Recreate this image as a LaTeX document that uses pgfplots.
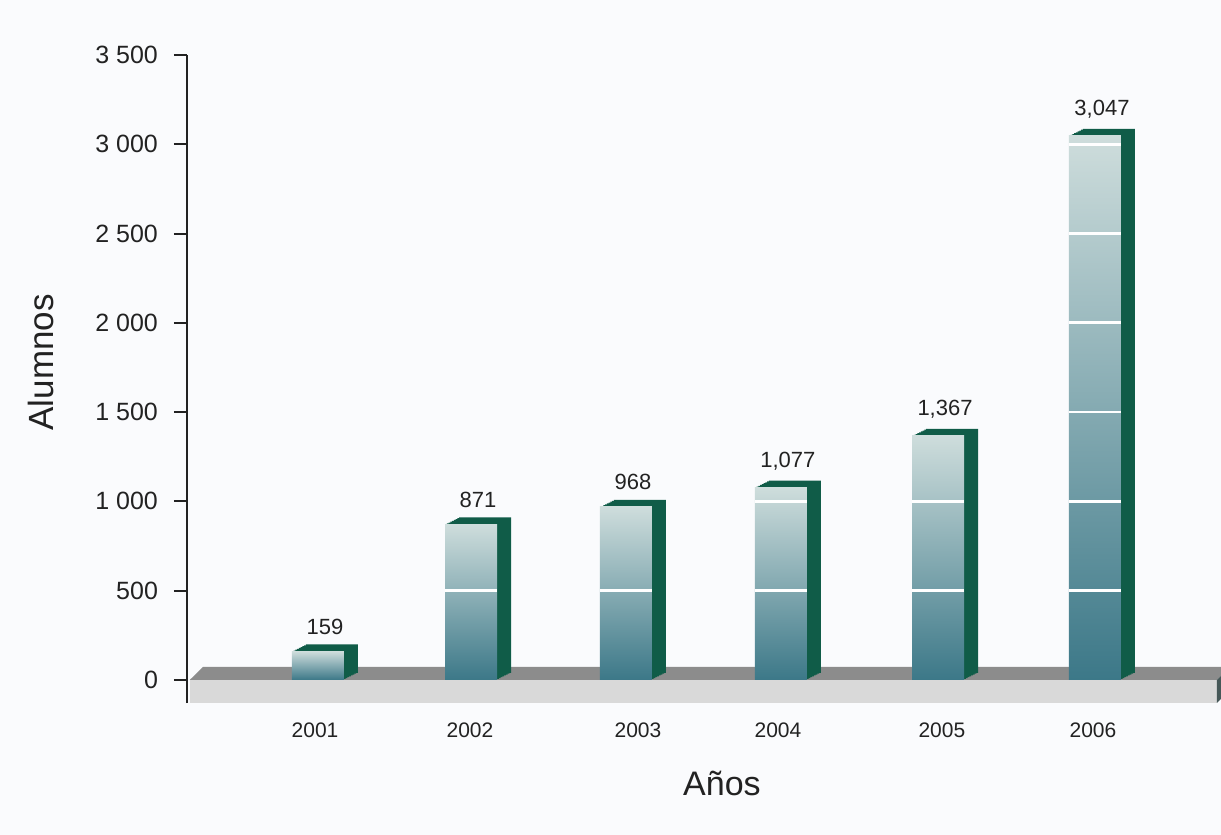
\documentclass[border=0pt]{standalone}
\usepackage{fontspec}
\setmainfont{Liberation Sans}
\usepackage{pgfplots}
\pgfplotsset{compat=1.18}
\usepackage{pgfplotstable}
\usetikzlibrary{calc}
\definecolor{bg}{RGB}{250,251,253}
\definecolor{sidegreen}{RGB}{16,92,72}
\definecolor{frontTop}{RGB}{206,221,220}
\definecolor{frontBot}{RGB}{60,120,136}
\definecolor{floortop}{RGB}{140,140,140}
\definecolor{floorfront}{RGB}{217,217,217}
\definecolor{floorside}{RGB}{70,88,88}
\definecolor{txt}{RGB}{34,34,34}

\pgfplotstableread{
x y
1 159
1.985 871
2.982 968
3.979 1077
4.99 1367
6 3047
}\datatable

\pgfplotsset{
  side/.style={ybar, bar width=26pt, draw=none, fill=sidegreen},
  front/.style={ybar, bar width=26pt, bar shift=0pt, draw=none, top color=frontTop, bottom color=frontBot,
    nodes near coords={\pgfmathprintnumber[1000 sep={,}]{\pgfplotspointmeta}},
    nodes near coords style={font=\fontsize{11}{13}\selectfont, text=txt, xshift=3.5pt, yshift=5pt}},
  wl/.style={white, line width=1.3pt},
}

\begin{document}
\begin{tikzpicture}
\fill[bg] (-93.5pt,-66pt) rectangle (517pt,351.5pt);
\begin{axis}[
  at={(0pt,0pt)}, anchor=south west,
  scale only axis, width=517pt, height=324pt,
  xmin=0.157, xmax=6.811, ymin=-130, ymax=3500,
  axis y line=left, axis x line=bottom,
  axis line style={-},
  x axis line style={draw=none},
  y axis line style={line width=1pt, draw=txt},
  tick align=outside,
  major tick length=6.5pt,
  xtick={0.981,1.978,3.059,3.960,5.015,5.987},
  xticklabels={2001,2002,2003,2004,2005,2006},
  x tick style={draw=none},
  ytick={0,500,1000,1500,2000,2500,3000,3500},
  y tick style={line width=1pt, draw=txt},
  scaled y ticks=false,
  /pgf/number format/assume math mode=true,
  yticklabel style={font=\fontsize{12.5}{14}\selectfont, text=txt, /pgf/number format/1000 sep={\ }, xshift=-4.5pt},
  xticklabel style={font=\fontsize{10.5}{12}\selectfont, text=txt},
  xlabel={Años},
  ylabel={Alumnos},
  every axis x label/.style={at={($(rel axis cs:0.5174,0)+(0,-40pt)$)}, anchor=center, font=\fontsize{17}{20}\selectfont, text=txt},
  every axis y label/.style={at={($(rel axis cs:0,0.5255)+(-73pt,0)$)}, anchor=center, rotate=90, font=\fontsize{17.5}{20}\selectfont, text=txt},
]
% floor
\addplot[fill=floorfront, draw=none] coordinates {(0.176,-129) (6.785,-129) (6.785,0) (0.176,0)} -- cycle;
\addplot[fill=floortop, draw=none] coordinates {(0.176,0) (0.26,72.8) (6.869,72.8) (6.785,0)} -- cycle;
\addplot[fill=floorside, draw=none] coordinates {(6.785,-129) (6.869,-56) (6.869,72.8) (6.785,0)} -- cycle;
% side / top faces (swept)
\addplot[side, bar shift=0.875pt, yshift=0.4375pt] table[x=x,y=y] {\datatable};
\addplot[side, bar shift=1.75pt, yshift=0.875pt] table[x=x,y=y] {\datatable};
\addplot[side, bar shift=2.625pt, yshift=1.3125pt] table[x=x,y=y] {\datatable};
\addplot[side, bar shift=3.5pt, yshift=1.75pt] table[x=x,y=y] {\datatable};
\addplot[side, bar shift=4.375pt, yshift=2.1875pt] table[x=x,y=y] {\datatable};
\addplot[side, bar shift=5.25pt, yshift=2.625pt] table[x=x,y=y] {\datatable};
\addplot[side, bar shift=6.125pt, yshift=3.0625pt] table[x=x,y=y] {\datatable};
\addplot[side, bar shift=7pt, yshift=3.5pt] table[x=x,y=y] {\datatable};
% front faces, one per bar so each has its own gradient
\addplot[front] coordinates {(1,159)};
\addplot[front] coordinates {(1.985,871)};
\addplot[front] coordinates {(2.982,968)};
\addplot[front] coordinates {(3.979,1077)};
\addplot[front] coordinates {(4.99,1367)};
\addplot[front] coordinates {(6,3047)};
% white grid segments on the front faces
\addplot[wl] coordinates {(1.818,500) (2.152,500)};
\addplot[wl] coordinates {(2.815,500) (3.149,500)};
\addplot[wl] coordinates {(3.812,500) (4.146,500)};
\addplot[wl] coordinates {(3.812,1000) (4.146,1000)};
\addplot[wl] coordinates {(4.823,500) (5.157,500)};
\addplot[wl] coordinates {(4.823,1000) (5.157,1000)};
\addplot[wl] coordinates {(5.833,500) (6.167,500)};
\addplot[wl] coordinates {(5.833,1000) (6.167,1000)};
\addplot[wl] coordinates {(5.833,1500) (6.167,1500)};
\addplot[wl] coordinates {(5.833,2000) (6.167,2000)};
\addplot[wl] coordinates {(5.833,2500) (6.167,2500)};
\addplot[wl] coordinates {(5.833,3000) (6.167,3000)};
\end{axis}
\end{tikzpicture}
\end{document}
